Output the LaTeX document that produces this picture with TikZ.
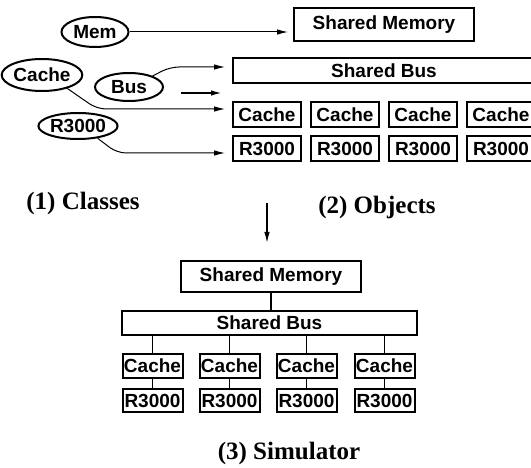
\documentclass[tikz,border=0pt]{standalone}
\usepackage{fontspec}
\setmainfont{Liberation Serif}
\setsansfont{Liberation Sans}
\usetikzlibrary{shapes.geometric,arrows.meta}

\tikzset{
  unitbox/.style={draw,line width=2pt,inner sep=0pt,font=\sffamily\bfseries\fontsize{19}{19}\selectfont},
  classell/.style={draw,ellipse,line width=2pt,inner sep=0pt,font=\sffamily\bfseries\fontsize{19}{19}\selectfont},
  arr/.style={-{Latex[length=11pt,width=5.5pt]},line width=1pt,rounded corners=9pt},
  wire/.style={line width=1.7pt},
  caption/.style={font=\bfseries\fontsize{25}{25}\selectfont}
}

\begin{document}
\begin{tikzpicture}[x=1pt,y=1pt,yscale=-1]
\useasboundingbox (0,0) rectangle (531,468);

%Classes
\node[classell,minimum width=67pt,minimum height=30pt] (mem) at (95,32) {Mem};
\node[classell,minimum width=69pt,minimum height=32pt] (cachecls) at (42,75) {Cache};
\node[classell,minimum width=68pt,minimum height=28pt] (buscls) at (129,87) {Bus};
\node[classell,minimum width=70pt,minimum height=26pt] (r3kcls) at (78,126) {R3000};

%Objects
\node[unitbox,minimum width=180pt,minimum height=33pt] (omem) at (384,24.5) {Shared Memory};
\node[unitbox,minimum width=302pt,minimum height=25pt] (obus) at (384,70.5) {Shared Bus};
\node[unitbox,minimum width=68pt,minimum height=25pt] (ocache1) at (267,114.5) {Cache};
\node[unitbox,minimum width=68pt,minimum height=25pt] (ocache2) at (345,114.5) {Cache};
\node[unitbox,minimum width=68pt,minimum height=25pt] (ocache3) at (423,114.5) {Cache};
\node[unitbox,minimum width=68pt,minimum height=25pt] (ocache4) at (501,114.5) {Cache};
\node[unitbox,minimum width=68pt,minimum height=25pt] (or3k1) at (267,148.5) {R3000};
\node[unitbox,minimum width=68pt,minimum height=25pt] (or3k2) at (345,148.5) {R3000};
\node[unitbox,minimum width=68pt,minimum height=25pt] (or3k3) at (423,148.5) {R3000};
\node[unitbox,minimum width=68pt,minimum height=25pt] (or3k4) at (501,148.5) {R3000};

%Instantiation arrows
\coordinate (memin) at (288,32);
\coordinate (busin) at (225,67);
\coordinate (cachein) at (225,109);
\coordinate (r3kin) at (225,153);
\coordinate (freea) at (181,93);
\coordinate (freeb) at (222,93);
\draw[arr] (mem) -- (memin);
\draw[arr] (buscls.25) -- (170,67) -- (busin);
\draw[arr] (cachecls.-28) -- (97,109) -- (cachein);
\draw[arr] (r3kcls.-32) -- (117,153) -- (r3kin);
\draw[arr,line width=1.6pt] (freea) -- (freeb);

% Text Node
\node[caption] (lclasses) at (83,203) {(1) Classes};
% Text Node
\node[caption] (lobjects) at (377,207) {(2) Objects};

\coordinate (downa) at (267,203);
\coordinate (downb) at (267,243);
\draw[arr,line width=1.3pt] (downa) -- (downb);

%Simulator
\node[unitbox,minimum width=180pt,minimum height=31pt] (smem) at (271,276.5) {Shared Memory};
\node[unitbox,minimum width=295pt,minimum height=24pt] (sbus) at (269.5,323) {Shared Bus};
\node[unitbox,minimum width=60pt,minimum height=24pt] (scache1) at (152.5,366) {Cache};
\node[unitbox,minimum width=60pt,minimum height=24pt] (scache2) at (229.5,366) {Cache};
\node[unitbox,minimum width=60pt,minimum height=24pt] (scache3) at (306.5,366) {Cache};
\node[unitbox,minimum width=60pt,minimum height=24pt] (scache4) at (384.5,366) {Cache};
\node[unitbox,minimum width=60pt,minimum height=23pt] (sr3k1) at (152.5,400.5) {R3000};
\node[unitbox,minimum width=60pt,minimum height=23pt] (sr3k2) at (229.5,400.5) {R3000};
\node[unitbox,minimum width=60pt,minimum height=23pt] (sr3k3) at (306.5,400.5) {R3000};
\node[unitbox,minimum width=60pt,minimum height=23pt] (sr3k4) at (384.5,400.5) {R3000};

\draw[wire] (smem) -- (smem |- sbus.north);
\draw[wire] (scache1) -- (scache1 |- sbus.south);
\draw[wire] (scache2) -- (scache2 |- sbus.south);
\draw[wire] (scache3) -- (scache3 |- sbus.south);
\draw[wire] (scache4) -- (scache4 |- sbus.south);
\draw[wire] (scache1) -- (sr3k1);
\draw[wire] (scache2) -- (sr3k2);
\draw[wire] (scache3) -- (sr3k3);
\draw[wire] (scache4) -- (sr3k4);

% Text Node
\node[caption] (lsim) at (289,453) {(3) Simulator};
\end{tikzpicture}
\end{document}
